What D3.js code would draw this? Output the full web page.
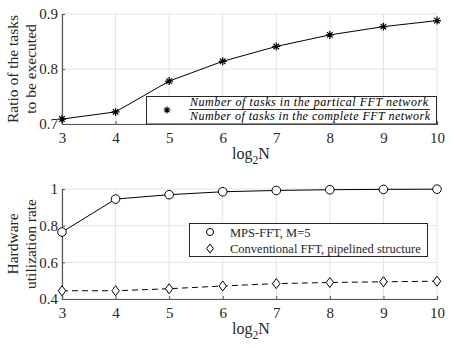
<!DOCTYPE html>
<html>
<head>
<meta charset="utf-8">
<script src="https://cdn.jsdelivr.net/npm/d3@7"></script>
</head>
<body style="margin:0">
<script>
// x values (log2 N)
var log2N = [3, 4, 5, 6, 7, 8, 9, 10];
// top panel: ratio of tasks to be executed
var taskRatio = [0.709, 0.722, 0.778, 0.814, 0.841, 0.862, 0.877, 0.888];
// bottom panel: hardware utilization rate
var mpsUtil = [0.765, 0.945, 0.969, 0.985, 0.992, 0.996, 0.998, 0.999];
var convUtil = [0.445, 0.445, 0.456, 0.471, 0.484, 0.490, 0.494, 0.497];
var topTicks = [0.7, 0.8, 0.9];
var botTicks = [0.4, 0.6, 0.8, 1];
var legendTop = ["Number of tasks in the partical FFT network", "Number of tasks in the complete FFT network"];
var legendBot = ["MPS-FFT, M=5", "Conventional FFT, pipelined structure"];

var SERIF = "Liberation Serif";
var INK = "#262626";

var width = 456, height = 348;
var svg = d3.select("body").append("svg")
	.attr("width", width)
	.attr("height", height)
	.attr("font-family", SERIF);

var x = d3.scaleLinear().domain([3, 10]).range([62, 437]);
var yTop = d3.scaleLinear().domain([0.7, 0.9]).range([124, 14]);
var yBot = d3.scaleLinear().domain([0.4, 1]).range([299, 189]);

function drawPanel(y, yTicks, yFmt) {
	var g = svg.append("g");
	// grid
	g.selectAll("line.vg").data(log2N).enter().append("line")
		.attr("x1", function(d) { return x(d); }).attr("x2", function(d) { return x(d); })
		.attr("y1", y.range()[0]).attr("y2", y.range()[1])
		.attr("stroke", "#e3e3e3").attr("stroke-width", 1);
	g.selectAll("line.hg").data(yTicks).enter().append("line")
		.attr("x1", x.range()[0]).attr("x2", x.range()[1])
		.attr("y1", function(d) { return y(d); }).attr("y2", function(d) { return y(d); })
		.attr("stroke", "#e3e3e3").attr("stroke-width", 1);

	var xAxis = g.append("g")
		.attr("transform", "translate(0," + y.range()[0] + ")")
		.call(d3.axisBottom(x).tickValues(log2N).tickSize(-3).tickPadding(8).tickFormat(d3.format("d")));
	var yAxis = g.append("g")
		.attr("transform", "translate(" + x.range()[0] + ",0)")
		.call(d3.axisLeft(y).tickValues(yTicks).tickSize(-3).tickPadding(4).tickFormat(yFmt));
	[xAxis, yAxis].forEach(function(a) {
		a.attr("font-family", SERIF).attr("font-size", 15);
		a.select(".domain").attr("stroke", "#555").attr("stroke-width", 1.2);
		a.selectAll(".tick line").attr("stroke", "#555");
		a.selectAll("text").attr("fill", INK).attr("font-family", SERIF).attr("font-size", 15);
	});
	// x label log2N
	var lbl = g.append("text")
		.attr("x", 232).attr("y", y.range()[0] + 35)
		.attr("font-family", SERIF).attr("font-size", 16).attr("fill", INK);
	lbl.append("tspan").attr("font-family", SERIF).text("log");
	lbl.append("tspan").attr("font-family", SERIF).attr("dy", 5).attr("font-size", 11.5).text("2");
	lbl.append("tspan").attr("font-family", SERIF).attr("dy", -5).text("N");
	return g;
}

function asterisk(g, cx, cy, r) {
	var d = "M" + (cx - r) + "," + cy + "H" + (cx + r) +
		"M" + cx + "," + (cy - r) + "V" + (cy + r) +
		"M" + (cx - r * 0.7) + "," + (cy - r * 0.7) + "L" + (cx + r * 0.7) + "," + (cy + r * 0.7) +
		"M" + (cx - r * 0.7) + "," + (cy + r * 0.7) + "L" + (cx + r * 0.7) + "," + (cy - r * 0.7);
	g.append("path").attr("d", d).attr("stroke", "#000").attr("stroke-width", 1.2).attr("fill", "none");
}
function diamond(g, cx, cy, r) {
	g.append("path")
		.attr("d", "M" + cx + "," + (cy - r) + "L" + (cx + r * 0.75) + "," + cy + "L" + cx + "," + (cy + r) + "L" + (cx - r * 0.75) + "," + cy + "Z")
		.attr("stroke", "#000").attr("fill", "#fff").attr("stroke-width", 1);
}

// ---------- top panel ----------
var gTop = drawPanel(yTop, topTicks, d3.format(".1f"));
var lineTop = d3.line().x(function(d, i) { return x(log2N[i]); }).y(function(d) { return yTop(d); });
gTop.append("path").datum(taskRatio).attr("d", lineTop)
	.attr("fill", "none").attr("stroke", "#000").attr("stroke-width", 1);
taskRatio.forEach(function(d, i) { asterisk(gTop, x(log2N[i]), yTop(d), 4); });

// top legend (fraction)
gTop.append("rect").attr("x", 146.5).attr("y", 96.5).attr("width", 290).attr("height", 27.5)
	.attr("fill", "#fff").attr("stroke", INK).attr("stroke-width", 1);
asterisk(gTop, 167, 110, 3.5);
gTop.selectAll("text.frac").data(legendTop).enter().append("text")
	.attr("x", 190).attr("y", function(d, i) { return i === 0 ? 106 : 120; })
	.attr("font-family", SERIF).attr("font-size", 12).attr("font-style", "italic").attr("fill", "#000")
	.attr("textLength", function(d, i) { return i === 0 ? 238 : 240; }).attr("lengthAdjust", "spacing")
	.text(function(d) { return d; });
gTop.append("line").attr("x1", 189).attr("x2", 430).attr("y1", 109.5).attr("y2", 109.5)
	.attr("stroke", "#000").attr("stroke-width", 0.8);

// top y label
var ylTop = svg.append("text").attr("transform", "translate(18,69) rotate(-90)")
	.attr("text-anchor", "middle").attr("font-family", SERIF).attr("font-size", 15.5).attr("fill", INK);
ylTop.append("tspan").attr("font-family", SERIF).attr("x", 0).attr("dy", 0).text("Ratio of the tasks");
ylTop.append("tspan").attr("font-family", SERIF).attr("x", 0).attr("dy", 18).text("to be executed");

// ---------- bottom panel ----------
var gBot = drawPanel(yBot, botTicks, function(d) { return d === 1 ? "1" : d3.format(".1f")(d); });
var lineBot = d3.line().x(function(d, i) { return x(log2N[i]); }).y(function(d) { return yBot(d); });
gBot.append("path").datum(mpsUtil).attr("d", lineBot)
	.attr("fill", "none").attr("stroke", "#000").attr("stroke-width", 1);
gBot.append("path").datum(convUtil).attr("d", lineBot)
	.attr("fill", "none").attr("stroke", "#000").attr("stroke-width", 1).attr("stroke-dasharray", "6,4");
gBot.selectAll("circle.m").data(mpsUtil).enter().append("circle")
	.attr("cx", function(d, i) { return x(log2N[i]); }).attr("cy", function(d) { return yBot(d); })
	.attr("r", 4.3).attr("fill", "#fff").attr("stroke", "#000").attr("stroke-width", 1);
convUtil.forEach(function(d, i) { diamond(gBot, x(log2N[i]), yBot(d), 5); });

// bottom legend
gBot.append("rect").attr("x", 189.5).attr("y", 223.5).attr("width", 238).attr("height", 33)
	.attr("fill", "#fff").attr("stroke", INK).attr("stroke-width", 1);
gBot.append("circle").attr("cx", 210).attr("cy", 232).attr("r", 3.5)
	.attr("fill", "#fff").attr("stroke", "#000").attr("stroke-width", 1);
diamond(gBot, 210, 248.5, 4.5);
gBot.selectAll("text.leg").data(legendBot).enter().append("text")
	.attr("x", 230).attr("y", function(d, i) { return 236.5 + i * 16; })
	.attr("font-family", SERIF).attr("font-size", 12.5).attr("fill", INK)
	.text(function(d) { return d; });

// bottom y label
var ylBot = svg.append("text").attr("transform", "translate(18,244) rotate(-90)")
	.attr("text-anchor", "middle").attr("font-family", SERIF).attr("font-size", 15.5).attr("fill", INK);
ylBot.append("tspan").attr("font-family", SERIF).attr("x", 0).attr("dy", 0).text("Hardware");
ylBot.append("tspan").attr("font-family", SERIF).attr("x", 0).attr("dy", 18).text("utilization rate");
</script>
</body>
</html>
